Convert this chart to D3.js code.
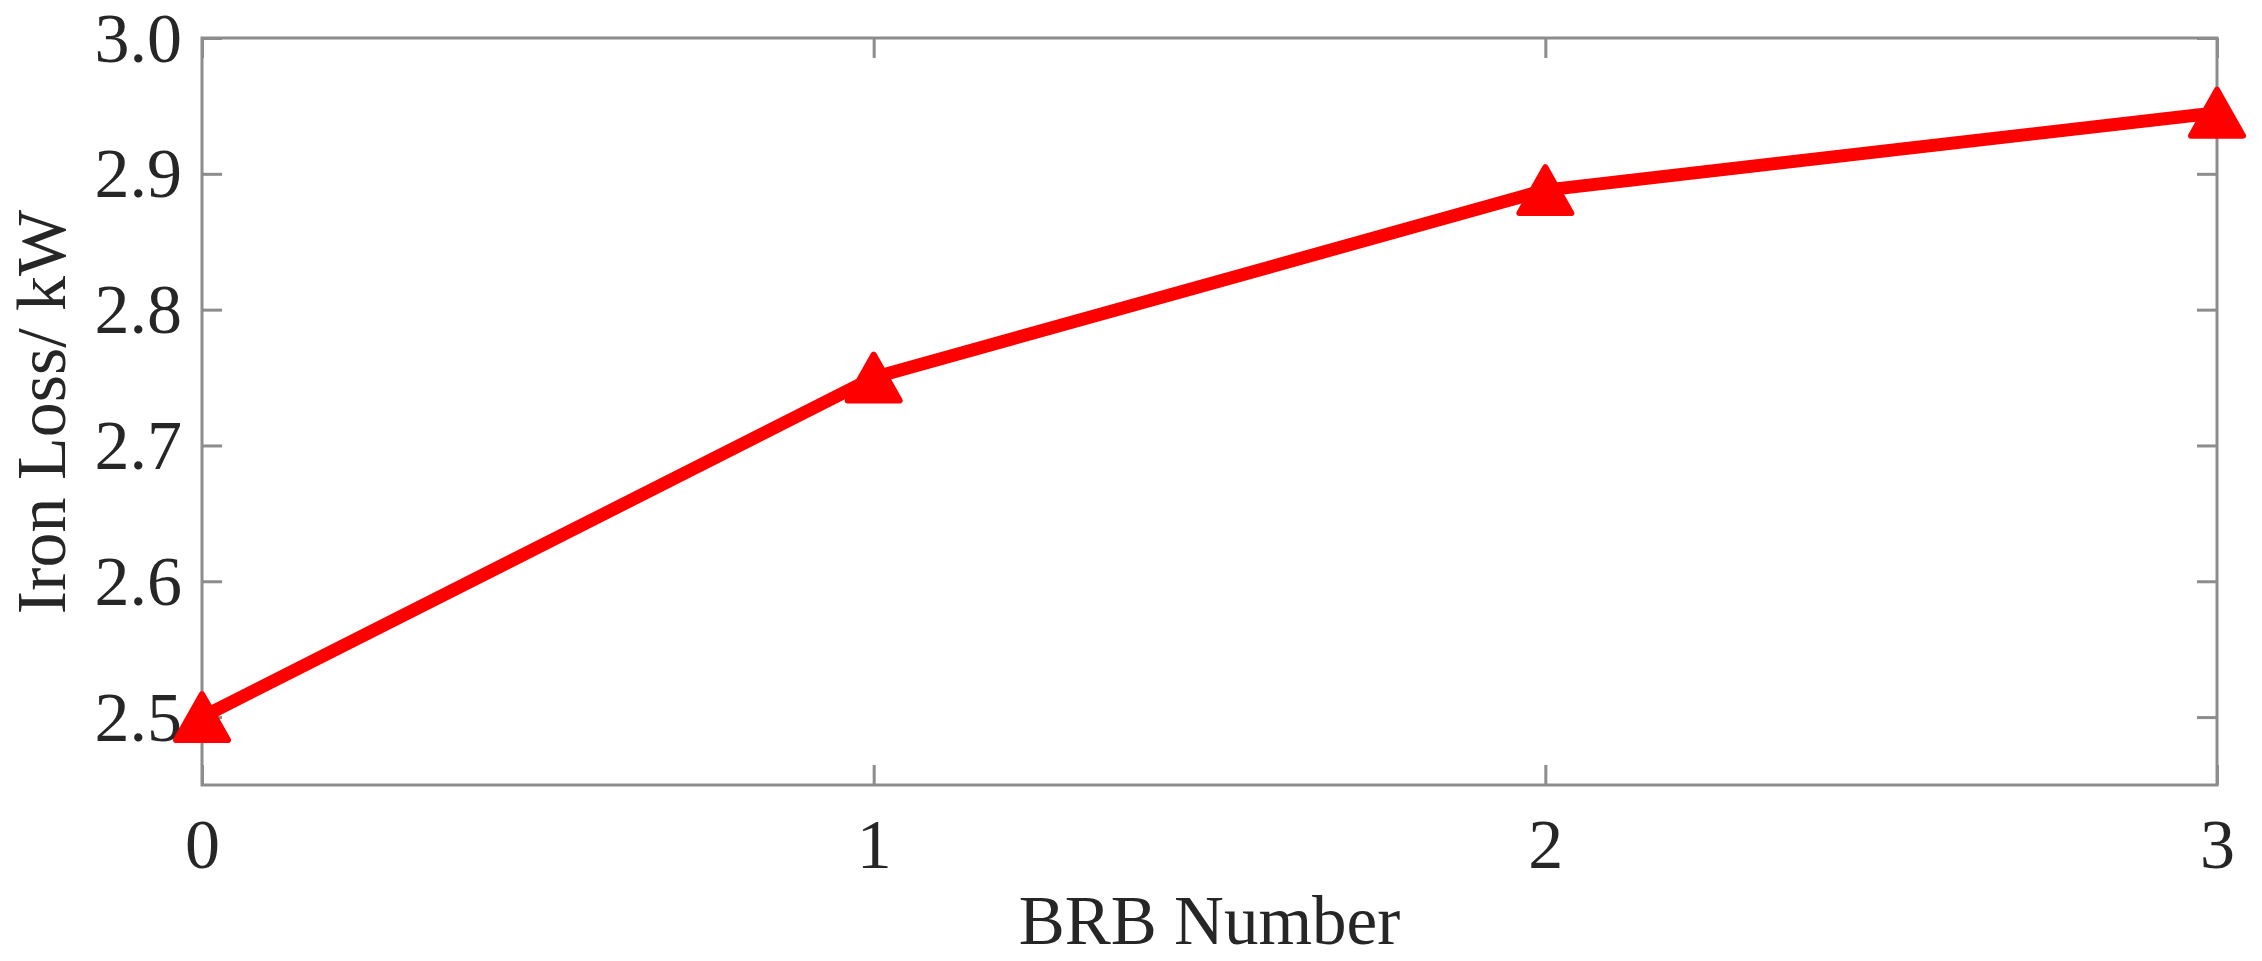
<!doctype html>
<html>
    <head>
        <title>Iron Loss vs BRB Number</title>
        <script src="https://d3js.org/d3.v7.min.js"></script>
        <style>
          body { margin: 0; background: #fff; }
          text { font-family: "Liberation Serif", "Times New Roman", serif; fill: #262626; }
        </style>
    </head>
    <body>
        <svg id="chart" width="2262" height="961"></svg>
        <script>
          var brbNumber = [0, 1, 2, 3];
          var ironLoss = [2.5, 2.75, 2.888, 2.945];
          var yTicks = [2.5, 2.6, 2.7, 2.8, 2.9, 3.0];
          var xTicks = [0, 1, 2, 3];

          var plotLeft = 202, plotRight = 2217, plotTop = 38, plotBottom = 785;
          var axisColor = '#8c8c8c';

          var svg = d3.select('#chart');

          var xScale = d3.scaleLinear()
            .domain([0, 3])
            .range([plotLeft, plotRight]);

          var yScale = d3.scaleLinear()
            .domain([2.45, 3.0])
            .range([plotBottom, plotTop]);

          // box
          svg.append('rect')
            .attr('x', plotLeft)
            .attr('y', plotTop)
            .attr('width', plotRight - plotLeft)
            .attr('height', plotBottom - plotTop)
            .style('fill', 'none')
            .style('stroke', axisColor)
            .style('stroke-width', '3px');

          var xAxis = d3.axisBottom(xScale)
            .tickValues(xTicks)
            .tickSize(-20)
            .tickSizeOuter(0)
            .tickPadding(33)
            .tickFormat(d3.format('d'));

          var yAxis = d3.axisLeft(yScale)
            .tickValues(yTicks)
            .tickSize(-20)
            .tickSizeOuter(0)
            .tickPadding(20)
            .tickFormat(d3.format('.1f'));

          // mirrored ticks on top and right
          var xAxisTop = d3.axisTop(xScale).tickValues(xTicks).tickSize(-20).tickSizeOuter(0).tickFormat('');
          var yAxisRight = d3.axisRight(yScale).tickValues(yTicks).tickSize(-20).tickSizeOuter(0).tickFormat('');

          var gx = svg.append('g')
            .attr('transform', 'translate(0,' + plotBottom + ')')
            .attr('id', 'xAxisG')
            .call(xAxis);

          var gy = svg.append('g')
            .attr('transform', 'translate(' + plotLeft + ',0)')
            .attr('id', 'yAxisG')
            .call(yAxis);

          svg.append('g').attr('transform', 'translate(0,' + plotTop + ')').call(xAxisTop);
          svg.append('g').attr('transform', 'translate(' + plotRight + ',0)').call(yAxisRight);

          svg.selectAll('.domain').remove();
          svg.selectAll('.tick line')
            .style('stroke', axisColor)
            .style('stroke-width', '3px');
          svg.selectAll('.tick text')
            .style('font-size', '70px')
            .style('fill', '#262626');
          gy.selectAll('.tick text').attr('dy', '0.33em');

          // axis titles
          svg.append('text')
            .attr('x', (plotLeft + plotRight) / 2)
            .attr('y', 944)
            .attr('text-anchor', 'middle')
            .style('font-size', '69px')
            .text('BRB Number');

          svg.append('text')
            .attr('transform', 'translate(65,' + 412 + ') rotate(-90)')
            .attr('text-anchor', 'middle')
            .style('font-size', '70px')
            .text('Iron Loss/ kW');

          var data = brbNumber.map((d, i) => ({x: d, y: ironLoss[i]}));

          var line = d3.line()
            .x(d => xScale(d.x))
            .y(d => yScale(d.y));

          svg.append('path')
            .datum(data)
            .attr('d', line)
            .style('fill', 'none')
            .style('stroke', '#ff0000')
            .style('stroke-width', '13px')
            .style('stroke-linejoin', 'round');

          var tw = 52, th = 46;
          svg.selectAll('path.marker')
            .data(data)
            .enter()
            .append('path')
            .attr('class', 'marker')
            .attr('transform', d => 'translate(' + xScale(d.x) + ',' + yScale(d.y) + ')')
            .attr('d', 'M0,' + (-th / 2) + 'L' + (tw / 2) + ',' + (th / 2) + 'L' + (-tw / 2) + ',' + (th / 2) + 'Z')
            .style('fill', '#ff0000')
            .style('stroke', '#ff0000')
            .style('stroke-width', '6px')
            .style('stroke-linejoin', 'round');
        </script>
    </body>
</html>
